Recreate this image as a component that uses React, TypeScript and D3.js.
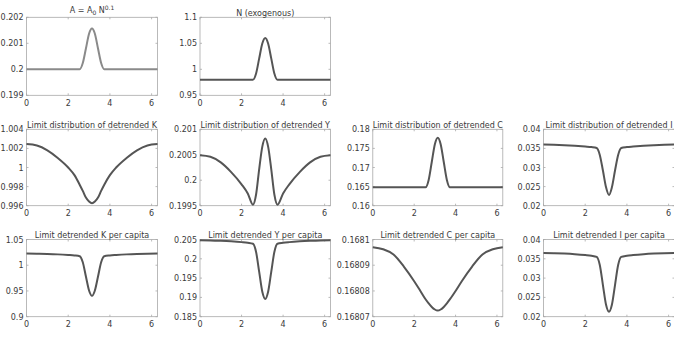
import React from "react";
import * as d3 from "d3";

// ---- data ----
const X = [0, 0.5, 1.0, 1.5, 2.0, 2.3, 2.55, 2.7, 2.85, 3.0, 3.1416, 3.28, 3.43, 3.58, 3.73, 4.0, 4.3, 4.8, 5.3, 5.8, 6.2832];

const A_VALUES = [0.2, 0.2, 0.2, 0.2, 0.2, 0.2, 0.2, 0.20024, 0.2008, 0.20137, 0.20157, 0.20137, 0.2008, 0.20024, 0.2, 0.2, 0.2, 0.2, 0.2, 0.2, 0.2];
const N_VALUES = [0.98, 0.98, 0.98, 0.98, 0.98, 0.98, 0.98, 0.992, 1.021, 1.0496, 1.06, 1.0496, 1.021, 0.992, 0.98, 0.98, 0.98, 0.98, 0.98, 0.98, 0.98];
const K_VALUES = [1.00245, 1.0023, 1.0018, 1.001, 1.0, 0.9992, 0.9982, 0.99755, 0.99685, 0.99643, 0.99625, 0.99643, 0.99685, 0.99755, 0.9982, 0.9992, 1.0, 1.001, 1.0018, 1.0023, 1.00245];
const Y_VALUES = [0.20049, 0.20046, 0.20035, 0.20016, 0.19992, 0.19974, 0.19952, 0.19972, 0.20022, 0.20066, 0.20082, 0.20066, 0.20022, 0.19972, 0.19952, 0.19974, 0.19992, 0.20016, 0.20035, 0.20046, 0.20049];
const C_VALUES = [0.1648, 0.1648, 0.1648, 0.1648, 0.1648, 0.1648, 0.1648, 0.16675, 0.17143, 0.17611, 0.1778, 0.17611, 0.17143, 0.16675, 0.1648, 0.1648, 0.1648, 0.1648, 0.1648, 0.1648, 0.1648];
const I_VALUES = [0.036, 0.03594, 0.03583, 0.03568, 0.03548, 0.03534, 0.0351, 0.0333, 0.0292, 0.0248, 0.0228, 0.0248, 0.0292, 0.0333, 0.0351, 0.03534, 0.03548, 0.03568, 0.03583, 0.03594, 0.036];
const KPC_VALUES = [1.0226, 1.0224, 1.0219, 1.0211, 1.0199, 1.019, 1.0176, 1.0058, 0.978, 0.951, 0.9405, 0.951, 0.978, 1.0058, 1.0176, 1.019, 1.0199, 1.0211, 1.0219, 1.0224, 1.0226];
const YPC_VALUES = [0.2048, 0.20476, 0.20466, 0.20452, 0.20432, 0.20415, 0.2039, 0.20176, 0.1966, 0.19147, 0.1896, 0.19147, 0.1966, 0.20176, 0.2039, 0.20415, 0.20432, 0.20452, 0.20466, 0.20476, 0.2048];
const CPC_VALUES = [0.168097, 0.1680962, 0.1680942, 0.1680895, 0.1680838, 0.16808, 0.1680768, 0.1680752, 0.1680738, 0.1680728, 0.1680724, 0.1680728, 0.1680738, 0.1680752, 0.1680768, 0.16808, 0.1680838, 0.1680895, 0.1680942, 0.1680962, 0.168097];
const IPC_VALUES = [0.0365, 0.03645, 0.03635, 0.0362, 0.03598, 0.0358, 0.0355, 0.0334, 0.0282, 0.0231, 0.0213, 0.0231, 0.0282, 0.0334, 0.0355, 0.0358, 0.03598, 0.0362, 0.03635, 0.03645, 0.0365];

const X_TICKS = [0, 2, 4, 6];
const A_TICKS = [0.199, 0.2, 0.201, 0.202];
const N_TICKS = [0.95, 1, 1.05, 1.1];
const K_TICKS = [0.996, 0.998, 1, 1.002, 1.004];
const Y_TICKS = [0.1995, 0.2, 0.2005, 0.201];
const C_TICKS = [0.16, 0.165, 0.17, 0.175, 0.18];
const I_TICKS = [0.02, 0.025, 0.03, 0.035, 0.04];
const KPC_TICKS = [0.9, 0.95, 1, 1.05];
const YPC_TICKS = [0.185, 0.19, 0.195, 0.2, 0.205];
const CPC_TICKS = [0.16807, 0.16808, 0.16809, 0.1681];
const IPC_TICKS = [0.02, 0.025, 0.03, 0.035, 0.04];

const TITLES = [
  "A",
  "N (exogenous)",
  "Limit distribution of detrended K",
  "Limit distribution of detrended Y",
  "Limit distribution of detrended C",
  "Limit distribution of detrended I",
  "Limit detrended K per capita",
  "Limit detrended Y per capita",
  "Limit detrended C per capita",
  "Limit detrended I per capita",
];

const PANELS = [
  { title: TITLES[0], values: A_VALUES, ticks: A_TICKS, row: 0, col: 0, light: true },
  { title: TITLES[1], values: N_VALUES, ticks: N_TICKS, row: 0, col: 1 },
  { title: TITLES[2], values: K_VALUES, ticks: K_TICKS, row: 1, col: 0 },
  { title: TITLES[3], values: Y_VALUES, ticks: Y_TICKS, row: 1, col: 1 },
  { title: TITLES[4], values: C_VALUES, ticks: C_TICKS, row: 1, col: 2 },
  { title: TITLES[5], values: I_VALUES, ticks: I_TICKS, row: 1, col: 3 },
  { title: TITLES[6], values: KPC_VALUES, ticks: KPC_TICKS, row: 2, col: 0 },
  { title: TITLES[7], values: YPC_VALUES, ticks: YPC_TICKS, row: 2, col: 1 },
  { title: TITLES[8], values: CPC_VALUES, ticks: CPC_TICKS, row: 2, col: 2 },
  { title: TITLES[9], values: IPC_VALUES, ticks: IPC_TICKS, row: 2, col: 3 },
];

// ---- layout ----
const COL_X: [number, number][] = [
  [26.5, 157.5],
  [200, 330.5],
  [372.8, 502.8],
  [543.5, 674.5],
];
const ROW_Y: [number, number][] = [
  [17.3, 95.3],
  [129.3, 205.7],
  [239.5, 316.7],
];

const FONT = "'DejaVu Sans', sans-serif";
const TEXT_COLOR = "#3a3a3a";
const AXIS_COLOR = "#a8a8a8";
const FS = 8;

function Panel({ p }: { p: any }) {
  const [x0, x1] = COL_X[p.col];
  const [y0, y1] = ROW_Y[p.row];
  const xs = d3.scaleLinear().domain([0, 2 * Math.PI]).range([x0, x1]);
  const tmin = p.ticks[0];
  const tmax = p.ticks[p.ticks.length - 1];
  const ys = d3.scaleLinear().domain([tmin, tmax]).range([y1, y0]);
  const line = d3
    .line<number>()
    .x((_, i) => xs(X[i]))
    .y((d) => ys(d))
    .curve(d3.curveMonotoneX);
  const cx = (x0 + x1) / 2;
  const tl = 2;
  return (
    <g>
      <rect x={x0} y={y0} width={x1 - x0} height={y1 - y0} fill="#fff" stroke={AXIS_COLOR} strokeWidth={0.8} />
      {X_TICKS.map((t) => (
        <g key={"x" + t}>
          <line x1={xs(t)} x2={xs(t)} y1={y1} y2={y1 - tl} stroke={AXIS_COLOR} strokeWidth={0.8} />
          <line x1={xs(t)} x2={xs(t)} y1={y0} y2={y0 + tl} stroke={AXIS_COLOR} strokeWidth={0.8} />
          <text x={xs(t)} y={y1 + 10.5} textAnchor="middle" fontSize={FS} fontFamily={FONT} fill={TEXT_COLOR}>
            {String(t)}
          </text>
        </g>
      ))}
      {p.ticks.map((t: number) => (
        <g key={"y" + t}>
          <line x1={x0} x2={x0 + tl} y1={ys(t)} y2={ys(t)} stroke={AXIS_COLOR} strokeWidth={0.8} />
          <line x1={x1} x2={x1 - tl} y1={ys(t)} y2={ys(t)} stroke={AXIS_COLOR} strokeWidth={0.8} />
          <text x={x0 - 3} y={ys(t) + 3} textAnchor="end" fontSize={FS} fontFamily={FONT} fill={TEXT_COLOR}>
            {String(t)}
          </text>
        </g>
      ))}
      <path d={line(p.values) || ""} fill="none" stroke={p.light ? "#8a8a8a" : "#555555"} strokeWidth={2} strokeLinejoin="round" />
      {p.title === "A" ? (
        <text x={cx} y={y0 - 4} textAnchor="middle" fontSize={FS} fontFamily={FONT} fill={TEXT_COLOR}>
          <tspan>A = A</tspan>
          <tspan dy={2} fontSize={6}>0</tspan>
          <tspan dy={-2}> N</tspan>
          <tspan dy={-3.5} fontSize={6}>0.1</tspan>
        </text>
      ) : (
        <text x={cx} y={y0 - 1.8} textAnchor="middle" fontSize={FS} fontFamily={FONT} fill={TEXT_COLOR}>
          {p.title}
        </text>
      )}
    </g>
  );
}

export default function App() {
  return (
    <svg
      width={674}
      height={337}
      style={{ position: "fixed", left: 0, top: 0, background: "#fff" }}
    >
      <rect x={0} y={0} width={674} height={337} fill="#fff" />
      {PANELS.map((p, i) => (
        <Panel key={i} p={p} />
      ))}
    </svg>
  );
}
